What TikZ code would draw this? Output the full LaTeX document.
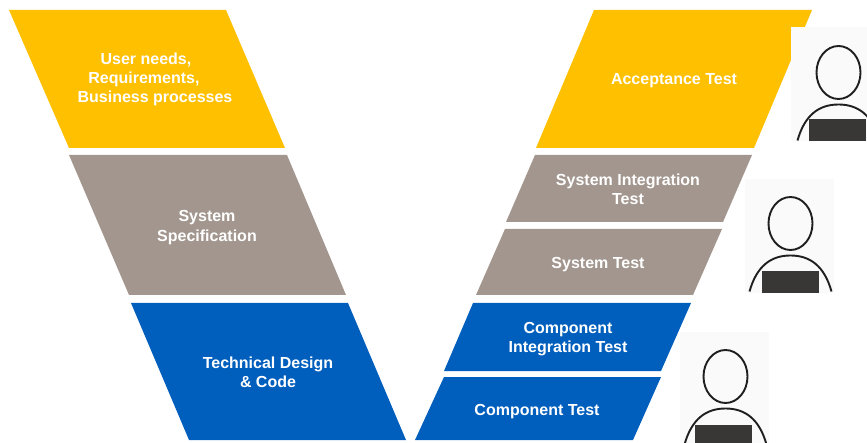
\documentclass[tikz,border=0pt]{standalone}
\usepackage{fontspec}
\setmainfont{Liberation Sans}
\definecolor{vyellow}{HTML}{FFC000}
\definecolor{vgrey}{HTML}{A2968E}
\definecolor{vblue}{HTML}{005EBD}
\definecolor{vdark}{HTML}{393735}
\definecolor{vpatch}{HTML}{FAFAFA}
\tikzset{
  lbl/.style={text=white,font=\fontsize{16}{19.2}\selectfont\bfseries,align=center,inner sep=0pt},
  patch/.style={fill=vpatch,draw=none},
  line/.style={draw=black!88,line width=1.9pt},
  badge/.style={fill=vdark,draw=none}
}
% #1 patch left, #2 patch top, #3 patch right, #4 patch bottom, #5 head x, #6 head y, #7 badge left, #8 badge top
\newcommand{\person}[8]{%
  \fill[patch] (#1,#2) rectangle (#3,#4);
  \begin{scope}
    \clip (#1,#2) rectangle (#3,#4);
    \draw[line] (#5,#6) ellipse [x radius=22,y radius=26.5];
    \begin{scope}[shift={(#5,#6)}]
      \draw[line] (-41,68) .. controls (-34,43) and (-20,32) .. (0,32) .. controls (20,32) and (34,43) .. (41,68);
    \end{scope}
    \fill[badge] (#7,#8) rectangle ++(57,24);
  \end{scope}}
\begin{document}
\begin{tikzpicture}[x=1pt,y=-1pt]
\useasboundingbox (0,0) rectangle (867,443);
\fill[vyellow] (9,10) -- (226,10) -- (285,148) -- (69,148) -- cycle;
\fill[vgrey] (69,155) -- (287,155) -- (346,295) -- (129,295) -- cycle;
\fill[vblue] (131,303) -- (348,303) -- (406,440) -- (189,440) -- cycle;
\fill[vyellow] (594,10) -- (812,10) -- (754,148) -- (536,148) -- cycle;
\fill[vgrey] (535,155) -- (752,155) -- (723,222) -- (506,222) -- cycle;
\fill[vgrey] (505,229) -- (722,229) -- (693,295) -- (476,295) -- cycle;
\fill[vblue] (473,303) -- (691,303) -- (661,371) -- (444,371) -- cycle;
\fill[vblue] (444,377) -- (661,377) -- (633,440) -- (415,440) -- cycle;
\node[lbl] (n1) at (155,79.5) {\mbox{User needs,\hspace{18pt}}\\\mbox{Requirements,\hspace{22pt}}\\Business processes};
\node[lbl] (n2) at (207,227.5) {System\\Specification};
\node[lbl] (n3) at (268,372.5) {Technical Design\\\& Code};
\node[lbl] (n4) at (674,81) {Acceptance Test};
\node[lbl] (n5) at (628,189) {System Integration\\Test};
\node[lbl] (n6) at (598,264.5) {System Test};
\node[lbl] (n7) at (568,339) {Component\\Integration Test};
\node[lbl] (n8) at (537,411.5) {Component Test};
\person{791}{27}{867}{141}{838.5}{72.5}{809}{119}
\person{745}{179}{834}{293}{790.5}{223.5}{762}{271}
\person{680}{332}{769}{443}{725.5}{376.5}{695}{425}
\end{tikzpicture}
\end{document}
